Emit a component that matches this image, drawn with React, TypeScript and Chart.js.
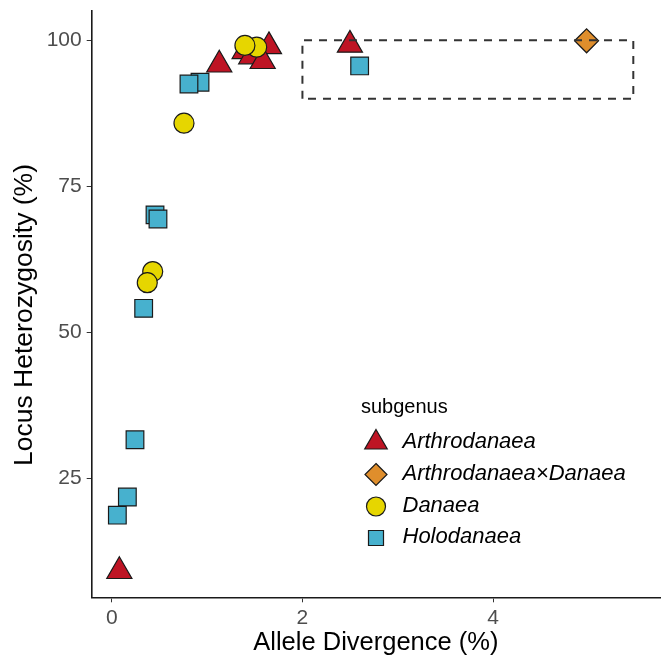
import React, { useEffect, useRef } from 'react';
import { Chart, registerables } from 'chart.js';

Chart.register(...registerables);

// ---- Data ----
const arthroX = [0.08, 1.128, 1.394, 1.463, 1.649, 1.583, 2.498];
const arthroY = [9.1, 95.8, 98.1, 97.2, 98.95, 96.4, 99.2];
const hybridX = [4.98];
const hybridY = [99.9];
const danaeaX = [0.43, 0.373, 0.758, 1.52, 1.397];
const danaeaY = [60.4, 58.5, 85.8, 98.8, 99.1];
const holoX = [0.059, 0.164, 0.244, 0.335, 0.454, 0.485, 0.926, 0.81, 2.6];
const holoY = [18.7, 21.8, 31.6, 54.1, 70.1, 69.4, 92.8, 92.5, 95.6];
const rectX = [2, 5.47];
const rectY = [90, 100];
const xTicks = [0, 2, 4];
const yTicks = [25, 50, 75, 100];

const seriesNames = ['Arthrodanaea', 'Arthrodanaea\u00d7Danaea', 'Danaea', 'Holodanaea'];
const seriesColors = ['#BE1424', '#DF8E2C', '#E6D600', '#47B1CE'];
const xTitle = 'Allele Divergence (%)';
const yTitle = 'Locus Heterozygosity (%)';
const legendTitle = 'subgenus';

const FONT = "'Liberation Sans', Arial, sans-serif";
const EDGE = '#1a1a1a';

const pts = (xs: number[], ys: number[]) => xs.map((x, i) => ({ x, y: ys[i] }));

function drawSymbol(ctx: CanvasRenderingContext2D, kind: string, x: number, y: number, r: number, color: string) {
  ctx.save();
  ctx.beginPath();
  if (kind === 'triangle') {
    const w = Math.sin((2 * Math.PI) / 3) * r;
    ctx.moveTo(x, y - r);
    ctx.lineTo(x + w, y + r / 2);
    ctx.lineTo(x - w, y + r / 2);
    ctx.closePath();
  } else if (kind === 'diamond') {
    ctx.moveTo(x, y - r);
    ctx.lineTo(x + r, y);
    ctx.lineTo(x, y + r);
    ctx.lineTo(x - r, y);
    ctx.closePath();
  } else if (kind === 'circle') {
    ctx.arc(x, y, r, 0, Math.PI * 2);
  } else {
    ctx.rect(x - r, y - r, 2 * r, 2 * r);
  }
  ctx.fillStyle = color;
  ctx.fill();
  ctx.lineWidth = 1.2;
  ctx.strokeStyle = EDGE;
  ctx.stroke();
  ctx.restore();
}

const overlayPlugin = {
  id: 'overlay',
  afterDraw(chart: any) {
    const ctx: CanvasRenderingContext2D = chart.ctx;
    const area = chart.chartArea;
    ctx.save();
    ctx.fillStyle = '#000';
    ctx.textAlign = 'center';
    ctx.textBaseline = 'middle';
    ctx.font = `25.5px ${FONT}`;
    ctx.fillText(xTitle, (area.left + area.right) / 2, 643);
    ctx.save();
    ctx.translate(25, 315);
    ctx.rotate(-Math.PI / 2);
    ctx.font = `26.5px ${FONT}`;
    ctx.fillText(yTitle, 0, 0);
    ctx.restore();

    ctx.textAlign = 'left';
    ctx.fillStyle = '#000';
    ctx.font = `20px ${FONT}`;
    ctx.fillText(legendTitle, 361, 407);
    const kinds = ['triangle', 'diamond', 'circle', 'square'];
    const ys = [442.5, 474.5, 506.5, 538];
    const rs = [13, 11, 9.5, 7.5];
    kinds.forEach((k, i) => {
      drawSymbol(ctx, k, 376, ys[i], rs[i], seriesColors[i]);
      ctx.fillStyle = '#000';
      ctx.font = `italic 22px ${FONT}`;
      ctx.fillText(seriesNames[i], 402.5, ys[i] - 1);
    });
    ctx.restore();
  },
};

export default function App() {
  const ref = useRef<HTMLCanvasElement | null>(null);
  useEffect(() => {
    document.body.style.margin = '0';
    if (!ref.current) return;
    const rectPts = [
      { x: rectX[0], y: rectY[0] },
      { x: rectX[0], y: rectY[1] },
      { x: rectX[1], y: rectY[1] },
      { x: rectX[1], y: rectY[0] },
      { x: rectX[0], y: rectY[0] },
    ];
    const chart = new Chart(ref.current, {
      type: 'scatter',
      data: {
        datasets: [
          {
            type: 'line',
            label: 'box',
            data: rectPts,
            showLine: true,
            borderColor: '#333',
            borderWidth: 2,
            borderDash: [8, 7],
            pointRadius: 0,
            fill: false,
          } as any,
          {
            label: seriesNames[2],
            data: pts(danaeaX, danaeaY),
            pointStyle: 'circle',
            pointRadius: 10,
            backgroundColor: seriesColors[2],
            borderColor: EDGE,
            borderWidth: 1.2,
          },
          {
            label: seriesNames[0],
            data: pts(arthroX, arthroY),
            pointStyle: 'triangle',
            pointRadius: 14.5,
            backgroundColor: seriesColors[0],
            borderColor: EDGE,
            borderWidth: 1.2,
          },
          {
            label: seriesNames[1],
            data: pts(hybridX, hybridY),
            pointStyle: 'rectRot',
            pointRadius: 12,
            backgroundColor: seriesColors[1],
            borderColor: EDGE,
            borderWidth: 1.2,
          },
          {
            label: seriesNames[3],
            data: pts(holoX, holoY),
            pointStyle: 'rect',
            pointRadius: 12.5,
            backgroundColor: seriesColors[3],
            borderColor: EDGE,
            borderWidth: 1.2,
          },
        ],
      },
      options: {
        animation: false,
        responsive: false,
        events: [],
        layout: { autoPadding: false, padding: { top: 11, right: 5, left: 0, bottom: 0 } },
        plugins: { legend: { display: false }, tooltip: { enabled: false } },
        scales: {
          x: {
            type: 'linear',
            min: -0.21,
            max: 5.75,
            afterBuildTicks: (s: any) => {
              s.ticks = xTicks.map((v) => ({ value: v }));
            },
            afterFit: (s: any) => {
              s.height = 59.7;
              s.paddingLeft = 0;
              s.paddingRight = 0;
            },
            grid: { drawOnChartArea: false, drawTicks: true, tickLength: 5, color: '#333', lineWidth: 1 },
            border: { display: true, color: '#1a1a1a', width: 1.6 },
            ticks: { color: '#4D4D4D', font: { size: 21, family: FONT }, padding: 3, maxRotation: 0 },
          },
          y: {
            type: 'linear',
            min: 4.64,
            max: 105,
            afterBuildTicks: (s: any) => {
              s.ticks = yTicks.map((v) => ({ value: v }));
            },
            afterFit: (s: any) => {
              s.width = 91.7;
              s.paddingTop = 0;
              s.paddingBottom = 0;
            },
            grid: { drawOnChartArea: false, drawTicks: true, tickLength: 5, color: '#333', lineWidth: 1 },
            border: { display: true, color: '#1a1a1a', width: 1.6 },
            ticks: { color: '#4D4D4D', font: { size: 21, family: FONT }, padding: 5 },
          },
        },
      },
      plugins: [overlayPlugin],
    });
    return () => chart.destroy();
  }, []);
  return (
    <div style={{ width: 665, height: 657, background: '#fff', overflow: 'hidden' }}>
      <canvas ref={ref} width={665} height={657} style={{ display: 'block' }} />
    </div>
  );
}
